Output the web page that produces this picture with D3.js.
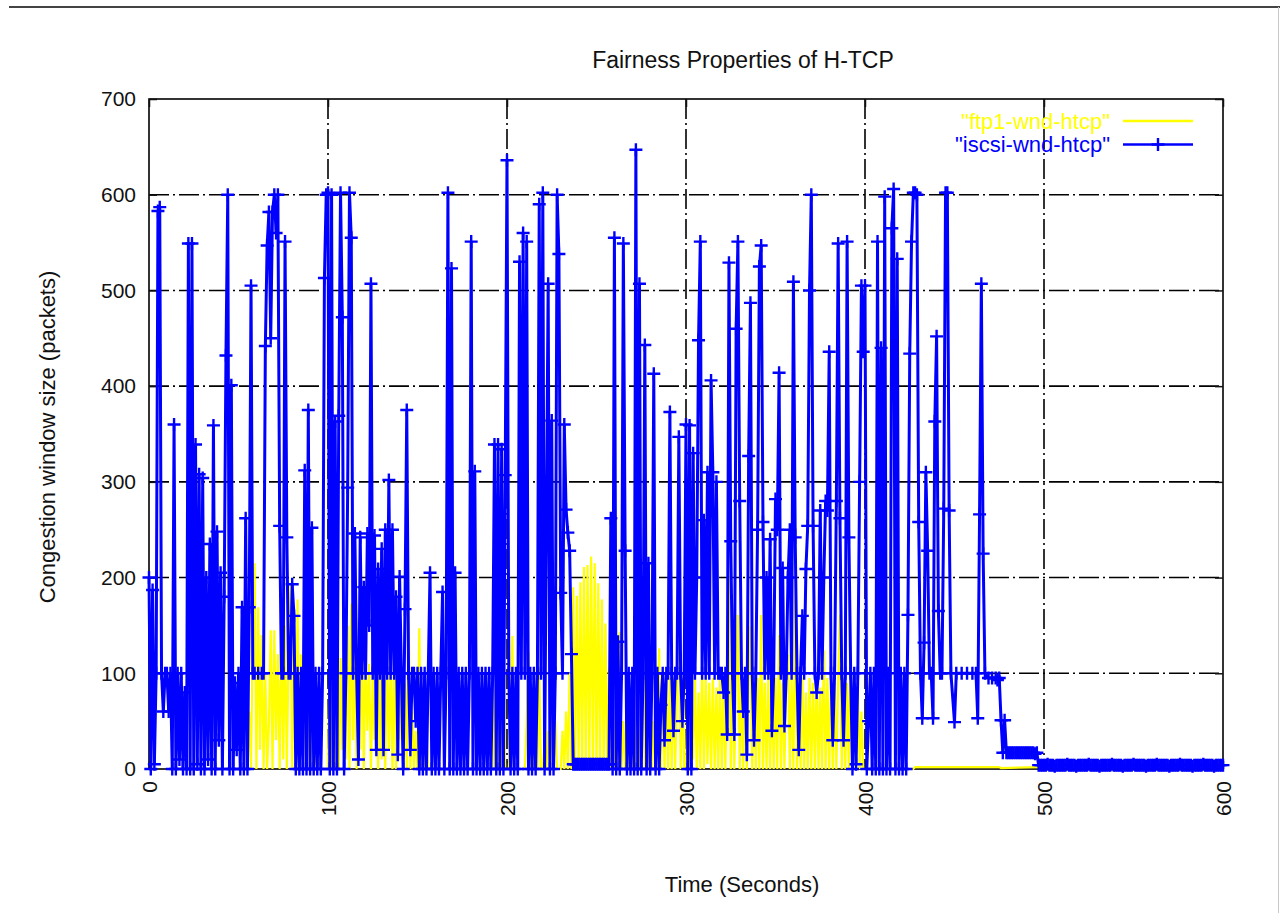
<!DOCTYPE html>
<html lang="en">
<head>
<meta charset="utf-8">
<title>Fairness Properties of H-TCP</title>
<style>
  body { margin: 0; background: #fff; }
  svg { display: block; }
  text { font-family: "Liberation Sans", Arial, Helvetica, sans-serif; }
</style>
</head>
<body>
<div id="chart"></div>
<script src="https://d3js.org/d3.v7.min.js"></script>
<script>
var _ = null; // no sample recorded in that second

var xTicks = [0, 100, 200, 300, 400, 500, 600];
var yTicks = [0, 100, 200, 300, 400, 500, 600, 700];

// "iscsi-wnd-htcp": one slot per second, chunks start at these seconds
var iscsiStarts = [0, 100, 200, 300, 400, 500];
var iscsi000 = [
  200, 0, 187, 5, 100, 583, 587, 100, 60, 100,
  100, 60, 100, 0, 360, 0, 100, 10, 100, 0,
  80, 0, 549, 0, 549, 0, 339, 5, 308, 0,
  304, 0, 200, 10, 235, 0, 359, 0, 248, 30,
  205, 0, 180, 432, 600, 0, 401, 0, 90, 20,
  100, 0, 169, 0, 262, 0, 169, 505, 100, 100,
  _, 100, _, 100, 100, 442, 547, 582, 450, 582,
  600, 560, 600, 254, 100, 100, 551, 242, 100, 100,
  193, 160, 0, 100, 0, 100, 0, 312, 0, 375,
  0, 252, 0, 100, 0, 100, 0, 100, 513, 600
];
var iscsi100 = [
  602, 0, 600, 0, 363, 0, 369, 602, 472, 0,
  100, 294, 602, 555, 100, 246, 100, 10, 242, 100,
  190, 100, 246, 150, 507, 100, 244, 20, 209, 100,
  230, 20, 250, 100, 302, 100, 250, 100, 180, 15,
  201, 100, 0, 167, 375, 100, 20, 100, 100, 50,
  100, 0, 100, 0, 100, 0, 100, 205, 0, 100,
  0, 100, 0, 100, 185, 0, 100, 602, 0, 523,
  0, 205, 0, 100, 0, 100, 0, 100, 0, 100,
  551, 0, 311, 0, 100, 0, 100, 0, 100, 0,
  100, 0, 100, 339, 0, 339, 0, 334, 0, 307
];
var iscsi200 = [
  636, 100, 0, 100, 0, 100, 0, 530, 100, 560,
  100, 551, 0, 100, 0, 100, 0, 100, 590, 100,
  602, 0, 262, 507, 0, 364, 0, 100, 600, 538,
  184, 100, 360, 271, 247, 228, 120, 5, 5, 5,
  5, 5, 5, 5, 5, 5, 5, 5, 5, 5,
  5, 5, 5, 5, 5, 5, 5, 5, 262, 0,
  555, 0, 133, 0, 100, 549, 228, 0, 100, 0,
  100, 0, 647, 0, 507, 0, 100, 443, 0, 215,
  0, 100, 413, 0, 100, 0, 67, 100, 30, 100,
  100, 373, 100, 40, 100, 100, 347, 100, 50, 100
];
var iscsi300 = [
  360, 0, 359, 0, 330, 100, 200, 448, 551, 100,
  260, 100, 310, 100, 406, 310, 100, 300, 100, 100,
  100, 80, 100, 36, 529, 238, 100, 36, 460, 551,
  280, 100, 60, 100, 15, 327, 487, 100, 30, 100,
  250, 525, 547, 258, 100, 200, 100, 240, 40, 100,
  282, 250, 414, 100, 210, 45, 100, 200, 250, 100,
  509, 242, 100, 20, 100, 160, 100, 209, 254, 500,
  600, 254, 100, 80, 100, 270, 100, 200, 280, 270,
  436, 100, 30, 100, 280, 549, 262, 100, 30, 100,
  551, 242, 100, 0, 100, 5, 100, 300, 505, 436
];
var iscsi400 = [
  505, 0, 50, 100, 0, 100, 0, 551, 0, 440,
  0, 598, 0, 100, 0, 565, 606, 0, 533, 0,
  100, 0, 100, 0, 161, 434, 551, 602, 602, 600,
  258, 100, 53, 132, 310, 228, 100, 100, 53, 363,
  452, 165, 100, 100, 272, 602, 602, 270, 100, _,
  49, 100, _, _, 100, _, _, 100, _, _,
  100, _, 100, 53, 266, 507, 225, 100, _, 95,
  _, 95, _, 95, 93, 95, 51, 17, 51, 17,
  17, 17, 17, 17, 17, 17, 17, 17, 17, 17,
  17, 17, 17, 17, 17, 16, 17, 4, 4, 4
];
var iscsi500 = [
  4, 4, 5, 4, 4, 4, 3, 4, 4, 4,
  4, 4, 4, 5, 4, 4, 4, 4, 3, 4,
  4, 4, 4, 4, 4, 5, 4, 4, 4, 4,
  4, 3, 4, 4, 4, 4, 4, 4, 5, 4,
  4, 4, 4, 4, 3, 4, 4, 4, 4, 4,
  5, 4, 4, 4, 4, 4, 4, 3, 4, 4,
  4, 4, 4, 5, 4, 4, 4, 4, 4, 4,
  3, 4, 4, 4, 4, 4, 5, 4, 4, 4,
  4, 4, 4, 3, 4, 4, 4, 4, 4, 5,
  4, 4, 4, 4, 4, 3, 4, 4, 4, 4,
  4
];

// "ftp1-wnd-htcp"
var ftpStarts = [55, 100, 200, 300, 400];
var ftp055 = [
  0, 60, 0, 150, 215,
  0, 169, 20, 140, 0, 100, 0, 47, 145, 0,
  145, 30, 120, 0, 150, 10, 150, 0, 120, 193,
  0, 160, 0, 177, 0, 120, 0, 80, 0, 60,
  0, 40, 0, 20, 0, 10, 0, 0, 0, 0
];
var ftp100 = [
  0, 147, 0, 120, 0, 100, 0, 116, 20, 100,
  10, 150, 0, 173, 30, 140, 0, 130, 20, 140,
  0, 120, 40, 110, 0, 100, 30, 90, 0, 124,
  10, 100, 0, 124, 20, 110, 0, 130, 0, 140,
  30, 100, 0, 90, 0, 169, 0, 60, 0, 40,
  0, 147, 0, 88, 0, 40, 0, 0, 0, 0,
  0, 0, 0, 0, 0, 0, 0, 0, 0, 0,
  0, 0, 0, 0, 0, 0, 0, 0, 0, 0,
  0, 0, 0, 0, 0, 0, 0, 0, 0, 0,
  0, 0, 96, 0, 96, 0, 96, 0, 96, 0
];
var ftp200 = [
  0, 0, 60, 139, 0, 60, 0, 0, 0, 0,
  0, 50, 122, 0, 60, 0, 40, 0, 105, 0,
  0, 30, 0, 40, 0, 60, 0, 50, 0, 0,
  0, 40, 0, 60, 0, 100, 0, 190, 0, 181,
  10, 195, 0, 211, 5, 213, 0, 222, 10, 215,
  0, 194, 5, 177, 0, 152, 0, 105, 0, 80,
  0, 60, 0, 143, 0, 50, 0, 50, 0, 50,
  0, 50, 0, 50, 0, 50, 169, 0, 50, 0,
  50, 0, 50, 0, 50, 126, 0, 95, 0, 95,
  0, 95, 0, 95, 0, 95, 177, 0, 95, 0
];
var ftp300 = [
  0, 95, 0, 90, 10, 95, 0, 80, 0, 110,
  0, 95, 5, 90, 0, 95, 0, 85, 0, 95,
  0, 90, 0, 95, 201, 0, 95, 0, 90, 161,
  0, 95, 0, 90, 0, 95, 149, 0, 90, 0,
  95, 0, 161, 0, 90, 0, 95, 0, 90, 0,
  95, 0, 140, 0, 90, 0, 95, 120, 0, 95,
  0, 177, 0, 90, 0, 95, 0, 80, 0, 95,
  0, 90, 0, 95, 0, 85, 0, 124, 0, 95,
  0, 90, 0, 95, 0, 90, 161, 0, 95, 0,
  90, 0, 128, 0, 95, 0, 80, 0, 60, 0
];
var ftp400 = [
  0, _, _, _, _, _, _, _, _, _,
  _, _, _, _, _, _, _, _, _, _,
  _, _, _, _, _, _, _, 0, 2, _,
  _, _, _, _, _, _, _, _, _, _,
  _, _, _, _, _, _, _, _, _, _,
  _, _, _, _, _, _, _, _, _, _,
  _, _, _, _, _, _, _, _, _, _,
  _, _, _, _, _, 2, 1, _, _, _,
  _, _, _, _, _, _, _, _, _, _,
  _, _, _, _, _, _, _, 2
];

function samples(chunks, starts) {
  var pts = [];
  chunks.forEach(function (vals, k) {
    vals.forEach(function (v, i) {
      if (v !== null) pts.push({ t: starts[k] + i, w: v });
    });
  });
  return pts;
}

var iscsi = samples([iscsi000, iscsi100, iscsi200, iscsi300, iscsi400, iscsi500], iscsiStarts);
var ftp = samples([ftp055, ftp100, ftp200, ftp300, ftp400], ftpStarts);

var width = 1280, height = 913;
var plotLeft = 149, plotRight = 1223, plotTop = 99, plotBottom = 769;

var svg = d3.select("#chart").append("svg")
  .attr("width", width)
  .attr("height", height);

// page frame
svg.append("line").attr("x1", 9).attr("x2", width).attr("y1", 7).attr("y2", 7)
  .attr("stroke", "#444").attr("stroke-width", 2);
svg.append("line").attr("x1", 1278.5).attr("x2", 1278.5).attr("y1", 7).attr("y2", height)
  .attr("stroke", "#c8c8c8").attr("stroke-width", 1);

var x = d3.scaleLinear().domain([0, 600]).range([plotLeft, plotRight]);
var y = d3.scaleLinear().domain([0, 700]).range([plotBottom, plotTop]);

// grid
var grid = svg.append("g")
  .attr("stroke", "#000")
  .attr("stroke-width", 1.6)
  .attr("stroke-dasharray", "20,4,2,4");
grid.selectAll(".gx").data(xTicks.slice(1, -1)).enter().append("line")
  .attr("x1", function (d) { return x(d); }).attr("x2", function (d) { return x(d); })
  .attr("y1", plotTop).attr("y2", plotBottom);
grid.selectAll(".gy").data(yTicks.slice(1, -1)).enter().append("line")
  .attr("x1", plotLeft).attr("x2", plotRight)
  .attr("y1", function (d) { return y(d); }).attr("y2", function (d) { return y(d); });

// border
svg.append("rect")
  .attr("x", plotLeft).attr("y", plotTop)
  .attr("width", plotRight - plotLeft).attr("height", plotBottom - plotTop)
  .attr("fill", "none").attr("stroke", "#000").attr("stroke-width", 1.6);

function styleAxis(g) {
  g.select(".domain").remove();
  g.attr("font-family", null).attr("font-size", 21).style("color", "#111");
  g.selectAll(".tick line").attr("stroke-width", 1.5);
}

svg.append("g")
  .attr("transform", "translate(" + plotLeft + ",0)")
  .call(d3.axisLeft(y).tickValues(yTicks).tickSizeInner(-8).tickSizeOuter(0).tickPadding(13))
  .call(styleAxis);

svg.append("g")
  .attr("transform", "translate(" + plotRight + ",0)")
  .call(d3.axisRight(y).tickValues(yTicks).tickSizeInner(-8).tickSizeOuter(0).tickFormat(""))
  .call(styleAxis);

svg.append("g")
  .attr("transform", "translate(0," + plotTop + ")")
  .call(d3.axisTop(x).tickValues(xTicks).tickSizeInner(-8).tickSizeOuter(0).tickFormat(""))
  .call(styleAxis);

svg.append("g")
  .attr("transform", "translate(0," + plotBottom + ")")
  .call(d3.axisBottom(x).tickValues(xTicks).tickSizeInner(-8).tickSizeOuter(0))
  .call(styleAxis)
  .selectAll(".tick text")
  .attr("transform", "rotate(-90)")
  .attr("x", -12).attr("y", 0).attr("dy", "0.35em")
  .attr("text-anchor", "end");

// series
var line = d3.line()
  .x(function (d) { return x(d.t); })
  .y(function (d) { return y(d.w); });

svg.append("path")
  .datum(ftp)
  .attr("d", line)
  .attr("fill", "none")
  .attr("stroke", "#ffff00")
  .attr("stroke-width", 2.2);

svg.append("path")
  .datum(iscsi)
  .attr("d", line)
  .attr("fill", "none")
  .attr("stroke", "#0000ff")
  .attr("stroke-width", 3);

var plus = "M-6.5,0H6.5M0,-6.5V6.5";
svg.append("g")
  .attr("stroke", "#0000ff")
  .attr("stroke-width", 2.4)
  .selectAll("path")
  .data(iscsi).enter().append("path")
  .attr("d", plus)
  .attr("transform", function (d) { return "translate(" + x(d.t) + "," + y(d.w) + ")"; });

// titles
svg.append("text")
  .attr("x", 743).attr("y", 68)
  .attr("text-anchor", "middle")
  .attr("font-size", 23).attr("fill", "#111")
  .text("Fairness Properties of H-TCP");

svg.append("text")
  .attr("x", 742).attr("y", 892)
  .attr("text-anchor", "middle")
  .attr("font-size", 22).attr("fill", "#111")
  .text("Time (Seconds)");

svg.append("text")
  .attr("transform", "translate(55,437) rotate(-90)")
  .attr("text-anchor", "middle")
  .attr("font-size", 22).attr("fill", "#111")
  .text("Congestion window size (packets)");

// legend
var legend = [
  { name: "\"ftp1-wnd-htcp\"", color: "#ffff00", points: false },
  { name: "\"iscsi-wnd-htcp\"", color: "#0000ff", points: true }
];
var lg = svg.selectAll(".legend").data(legend).enter().append("g")
  .attr("transform", function (d, i) { return "translate(0," + (121 + i * 23.5) + ")"; });
lg.append("text")
  .attr("x", 1110).attr("dy", "0.35em")
  .attr("text-anchor", "end")
  .attr("font-size", 22)
  .attr("fill", function (d) { return d.color; })
  .text(function (d) { return d.name; });
lg.append("line")
  .attr("x1", 1123).attr("x2", 1193)
  .attr("stroke", function (d) { return d.color; })
  .attr("stroke-width", 2.4);
lg.filter(function (d) { return d.points; }).append("path")
  .attr("d", plus)
  .attr("transform", "translate(1158,0)")
  .attr("stroke", function (d) { return d.color; })
  .attr("stroke-width", 2.4);
</script>
</body>
</html>
